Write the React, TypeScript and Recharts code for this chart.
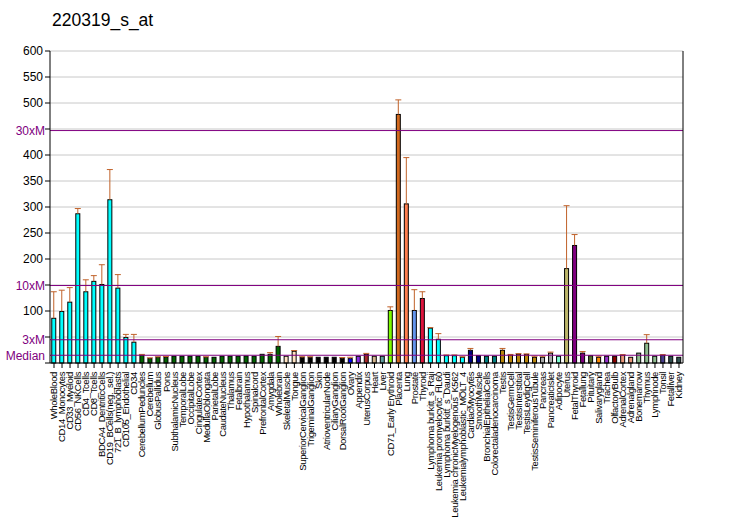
import React from 'react';
import {
 BarChart,
 Bar,
 XAxis,
 YAxis,
 CartesianGrid,
 ReferenceLine,
} from 'recharts';

const TITLE = '220319_s_at';

const tissues = [
 'WholeBlood', 'CD14_Monocytes', 'CD33_Myeloid', 'CD56_NKCells', 'CD4_Tcells', 'CD8_Tcells',
 'BDCA4_DentriticCells', 'CD19_BCells(neg._sel.)', '721_B_lymphoblasts', 'CD105_Endothelial', 'CD34',
 'CerebellumPeduncles', 'Cerebellum', 'GlobusPallidus', 'Pons', 'SubthalamicNucleus', 'TemporalLobe',
 'OccipitalLobe', 'CingulateCortex', 'MedullaOblongata', 'ParietalLobe', 'CaudateNucleus', 'Thalamus',
 'Fetalbrain', 'Hypothalamus', 'Spinalcord', 'PrefrontalCortex', 'Amygdala', 'Wholebrain',
 'SkeletalMuscle', 'Tongue', 'SuperiorCervicalGanglion', 'TrigeminalGanglion', 'Skin',
 'AtrioventricularNode', 'CiliaryGanglion', 'DorsalRootGanglion', 'Ovary', 'Appendix', 'UterusCorpus',
 'Heart', 'Liver', 'CD71_Early Erythroid', 'Placenta', 'Lung', 'Prostate', 'Thyroid',
 'Lymphoma burkitt_s_Raji', 'Leukemia promyelocytic_HL60', 'Lymphoma burkitt_s_Daudi',
 'Leukemia chronicMyelogenous_K562', 'Leukemialymphoblastic_MOLT_4', 'CardiacMyocytes', 'SmoothMuscle',
 'BronchialEpithelialCells', 'Colorectaladenocarcinoma', 'Testis', 'TestisGermCell', 'TestisInterstitial',
 'TestisLeydigCell', 'TestisSeminiferousTubule', 'Pancreas', 'PancreaticIslet', 'Adipocyte', 'Uterus',
 'FetalThyroid', 'Fetallung', 'Pituitary', 'Salivarygland', 'Trachea', 'OlfactoryBulb', 'AdrenalCortex',
 'Adrenalgland', 'Bonemarrow', 'Thymus', 'Lymphnode', 'Tonsil', 'Fetalliver', 'Kidney',
];

const values = [
 86, 99, 117, 287, 137, 157, 151, 314, 144, 49, 40,
 15, 8.5, 11, 11, 13, 13, 13, 13, 11, 11, 13, 13, 13, 13.5, 13, 16.7, 16.7, 32,
 13, 22.5, 11, 11, 11, 11, 11, 9, 8.4, 13, 16.7, 13, 13,
 101, 478, 306, 101, 124, 67, 45.6, 14, 14, 11, 24.4, 14, 13, 13,
 24.4, 16, 17, 16.5, 11, 11, 19, 13, 181.5, 226, 19, 14, 11, 13, 13, 15.5, 11, 19, 38, 13, 15.5, 13, 11,
];

// upper end of the error whisker, null where none is drawn
const errorTop: (number | null)[] = [
 137, 140, 145, 297, 160, 168, 189, 372, 170, 55, 55,
 16.5, 10, 12, 12.5, null, null, null, null, 12, null, null, null, null, null, null, null, 20, 51,
 null, 24, 12, 12, null, null, null, 10.5, 11, null, 18.5, null, null,
 108, 506, 395, 141, 137, 68, 56.5, 15.5, 15.5, 12, 28, null, null, null,
 28, 16.5, 18, 17.5, 13, 13, 21, null, 302.5, 247, 22, null, 13, null, null, 16, null, null, 54.5, null, 16, null, null,
];

const MEDIAN = 14.9;
const multiples = [
 { label: 'Median', factor: 1 },
 { label: '3xM', factor: 3 },
 { label: '10xM', factor: 10 },
 { label: '30xM', factor: 30 },
];
const yTicks = [0, 50, 100, 150, 200, 250, 300, 350, 400, 450, 500, 550, 600];
const hiddenLeftTicks = [0, 50, 150, 450];

const barColors = [
 ...Array(11).fill('#00FFFF'),
 ...Array(18).fill('#006400'),
 '#FFE4C4', '#FFE4C4',
 ...Array(6).fill('#000000'),
 '#0000FF', '#8A2BE2', '#A52A2A', '#D2B48C', '#5F9EA0', '#7CFC00', '#D2691E', '#FF7F50', '#6495ED', '#DC143C',
 ...Array(5).fill('#00FFFF'),
 '#000080', '#000080', '#008080', '#008080',
 ...Array(5).fill('#B8860B'),
 '#A9A9A9', '#A9A9A9', '#7FFFD4', '#BDB76B', '#800080', '#800080', '#556B2F', '#FF8C00', '#9932CC', '#8B0000',
 '#E9967A', '#E9967A', '#8FBC8F', '#8FBC8F', '#8FBC8F', '#483D8B', '#2F4F4F', '#2F4F4F',
];

const data = tissues.map((name, i) => ({ name, value: values[i], err: errorTop[i] }));

const FONT = '"Liberation Sans", Arial, sans-serif';
const PURPLE = '#800080';
const ERR_COLOR = '#C0622A';

const BarWithError = (props: any) => {
 const { x, y, width, height, payload, index } = props;
 const perUnit = payload.value ? height / payload.value : 0;
 const base = y + height;
 const errY = payload.err != null ? base - payload.err * perUnit : null;
 const cx = x + width / 2;
 return (
  <g>
   <rect x={x} y={y} width={width} height={height} fill={barColors[index]} stroke="#000" strokeWidth={1} />
   {errY != null && (
    <g stroke={ERR_COLOR} strokeWidth={1}>
     <line x1={cx} x2={cx} y1={y} y2={errY} />
     <line x1={cx - 3} x2={cx + 3} y1={errY} y2={errY} />
    </g>
   )}
  </g>
 );
};

const XTick = (props: any) => {
 const { x, y, payload } = props;
 return (
  <g transform={`translate(${x},${y + 2}) rotate(-90)`}>
   <text
    x={0}
    y={0}
    dy="0.35em"
    textAnchor="end"
    fontSize={9.5}
    letterSpacing={-0.4}
    fontFamily={FONT}
    fill="#000"
   >
    {payload.value}
   </text>
  </g>
 );
};

const LeftTick = (props: any) => {
 const { x, y, payload } = props;
 if (hiddenLeftTicks.includes(payload.value)) return null;
 return (
  <text x={x} y={y} dy="0.35em" textAnchor="end" fontSize={12} fontFamily={FONT} fill="#000">
   {payload.value}
  </text>
 );
};

export default function App() {
 return (
  <div style={{ position: 'absolute', left: 0, top: 0, width: 732, height: 530, background: '#fff' }}>
   <div
    style={{
     position: 'absolute',
     left: 52,
     top: 10,
     fontFamily: FONT,
     fontSize: 17.5,
     lineHeight: '20px',
     color: '#000',
    }}
   >
    {TITLE}
   </div>
   <BarChart
    width={732}
    height={530}
    data={data}
    margin={{ top: 51, right: 0, bottom: 0, left: 0 }}
    barCategoryGap="22%"
   >
    <CartesianGrid vertical={false} stroke="#C8C8C8" yAxisId="left" />
    <XAxis
     dataKey="name"
     interval={0}
     height={167}
     tick={<XTick />}
     tickSize={5}
     tickLine={{ stroke: '#000' }}
     axisLine={{ stroke: '#000' }}
    />
    <YAxis
     yAxisId="left"
     width={50}
     domain={[0, 600]}
     ticks={yTicks}
     tick={<LeftTick />}
     tickSize={5}
     tickLine={{ stroke: '#000' }}
     axisLine={{ stroke: '#000' }}
    />
    <YAxis
     yAxisId="right"
     orientation="right"
     width={49}
     domain={[0, 600]}
     ticks={yTicks}
     tick={{ fontSize: 12, fontFamily: FONT, fill: '#000' }}
     tickSize={5}
     tickLine={{ stroke: '#000' }}
     axisLine={{ stroke: '#000' }}
    />
    <Bar yAxisId="left" dataKey="value" shape={<BarWithError />} isAnimationActive={false} />
    {multiples.map((m) => (
     <ReferenceLine
      key={m.label}
      yAxisId="left"
      y={MEDIAN * m.factor}
      stroke={PURPLE}
      strokeWidth={1}
      label={{ value: m.label, position: 'left', fill: PURPLE, fontSize: 12, fontFamily: FONT }}
     />
    ))}
   </BarChart>
  </div>
 );
}
